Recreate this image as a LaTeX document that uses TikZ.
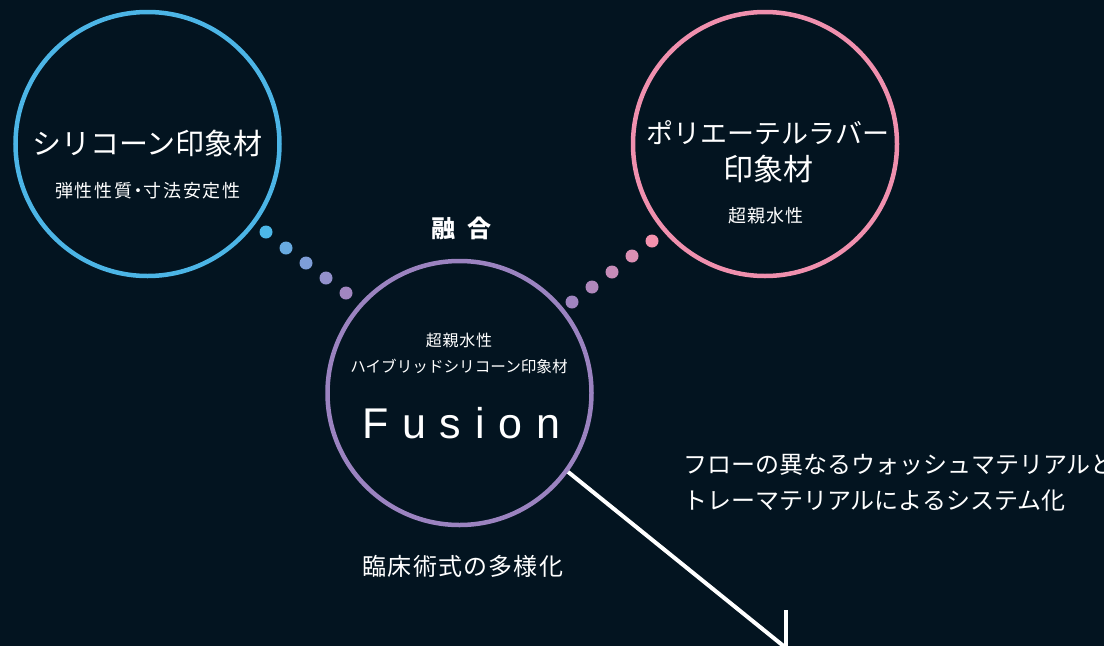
\documentclass[tikz,border=0pt]{standalone}
\usepackage{fontspec}
\newfontfamily\jp{Noto Sans CJK JP}
\newfontfamily\jpsp[LetterSpace=10]{Noto Sans CJK JP}
\newfontfamily\jpsm[LetterSpace=5]{Noto Sans CJK JP}
\newfontfamily\fusfont[LetterSpace=32]{Liberation Sans}
\definecolor{bg}{HTML}{031420}
\definecolor{cblue}{HTML}{4CB5E6}
\definecolor{cpink}{HTML}{F090AE}
\definecolor{cpurple}{HTML}{9B83C0}
\definecolor{bA}{HTML}{4DB8E8}
\definecolor{bB}{HTML}{68AAE0}
\definecolor{bC}{HTML}{7E9ED8}
\definecolor{bD}{HTML}{9391CC}
\definecolor{bE}{HTML}{A286C0}
\definecolor{pA}{HTML}{F492AE}
\definecolor{pB}{HTML}{DC90B4}
\definecolor{pC}{HTML}{C68CB8}
\definecolor{pD}{HTML}{B088BC}
\definecolor{pE}{HTML}{A085C0}
\tikzset{
  ring/.style={circle, minimum size=264pt, inner sep=0pt, line width=4.5pt},
  bubble/.style={circle, minimum size=13pt, inner sep=0pt},
  txt/.style={text=white, inner sep=0pt, align=center},
  conn/.style={draw=white, line width=4pt}
}
\begin{document}
\begin{tikzpicture}[x=1pt,y=-1pt]
\useasboundingbox (0,0) rectangle (1104,646);
\fill[bg] (0,0) rectangle (1104,646);
\clip (0,0) rectangle (1104,646);

% circles
\node[ring, draw=cblue] (sil) at (147.5,144) {};
\node[ring, draw=cpink] (poly) at (765,144) {};
\node[ring, draw=cpurple] (fus) at (459.5,393) {};

% dots left
\node[bubble, fill=bA] (b1) at (266,232) {};
\node[bubble, fill=bB] (b2) at (286,248) {};
\node[bubble, fill=bC] (b3) at (306,263) {};
\node[bubble, fill=bD] (b4) at (326,278) {};
\node[bubble, fill=bE] (b5) at (346,293) {};
% dots right
\node[bubble, fill=pA] (p1) at (652,241) {};
\node[bubble, fill=pB] (p2) at (632,256) {};
\node[bubble, fill=pC] (p3) at (612,272) {};
\node[bubble, fill=pD] (p4) at (592,287) {};
\node[bubble, fill=pE] (p5) at (572,302) {};

% texts in blue circle
\node[txt, font=\jp\fontsize{29}{34}\selectfont] (silt) at (147.5,143) {シリコーン印象材};
\node[txt, font=\jpsp\fontsize{18}{21}\selectfont] (sils) at (148,191) {弾性性質\hspace{-3.5pt}・\hspace{-3.5pt}寸法安定性};

% texts in pink circle
\node[txt, font=\jp\fontsize{27}{37}\selectfont] (polyt) at (768,152) {ポリエーテルラバー\\\fontsize{30}{37}\selectfont 印象材};
\node[txt, font=\jpsm\fontsize{18}{21}\selectfont] (polys) at (766,216) {超親水性};

% fusion label
\node[txt, font=\jp\bfseries\fontsize{24}{28}\selectfont] (yugo) at (461,228) {融\hspace{12pt}合};

% texts in purple circle
\node[txt, font=\jpsm\fontsize{16}{20}\selectfont] (fus1) at (459,340) {超親水性};
\node[txt, font=\jp\fontsize{15.6}{20}\selectfont] (fus2) at (459,366) {ハイブリッドシリコーン印象材};
\node[txt, font=\fusfont\fontsize{43}{48}\selectfont, anchor=west] (fusw) at (362,423) {Fusion};

% below
\node[txt, font=\jpsm\fontsize{24}{28}\selectfont] (rinsho) at (463,566) {臨床術式の多様化};
\node[txt, font=\jp\fontsize{24}{36}\selectfont, anchor=west, align=left] (flow) at (683,483) {フローの異なるウォッシュマテリアルと\\トレーマテリアルによるシステム化};

% arrow
\coordinate (tip) at (786,648);
\draw[conn] (fus.-36) -- (tip);
\draw[conn] (tip) -- ++(0,-38);
\draw[conn] (tip) -- ++(-37,8);
\end{tikzpicture}
\end{document}
